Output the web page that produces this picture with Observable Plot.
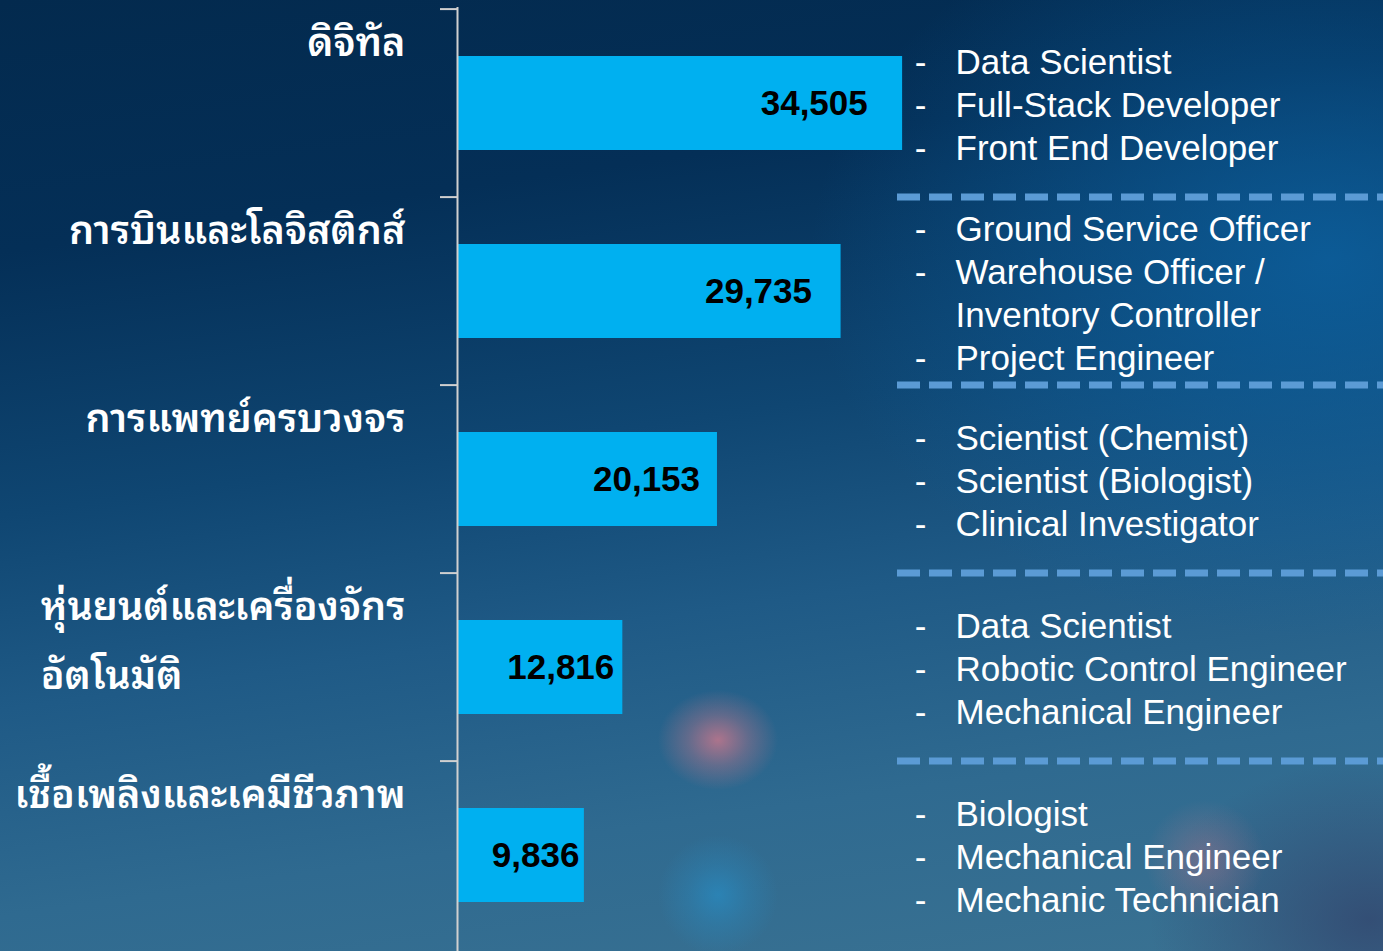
<!DOCTYPE html>
<html><head><meta charset="utf-8">
<script src="https://cdn.jsdelivr.net/npm/d3@7"></script>
<script src="https://cdn.jsdelivr.net/npm/@observablehq/plot@0.6"></script>
<style>
html,body{margin:0;padding:0;width:1383px;height:951px;overflow:hidden;}
body{
  background:
    radial-gradient(ellipse 60px 50px at 718px 740px, rgba(205,120,140,0.8) 0%, rgba(205,120,140,0.35) 50%, rgba(205,120,140,0) 100%),
    radial-gradient(circle at 718px 895px, rgba(40,140,195,0.7) 0px, rgba(40,140,195,0.3) 30px, rgba(40,140,195,0) 60px),
    radial-gradient(circle at 1205px 860px, rgba(190,120,140,0.4) 0px, rgba(190,120,140,0) 60px),
    radial-gradient(ellipse 220px 160px at 1370px 920px, rgba(50,70,110,0.8), rgba(50,70,110,0)),
    radial-gradient(ellipse 520px 380px at 1330px 260px, rgba(12,100,165,0.75), rgba(12,100,165,0)),
    linear-gradient(172deg, #032a4e 0%, #042f57 22%, #0f4672 45%, #1f5a86 62%, #2f6a90 80%, #3a7292 100%);
}
</style></head>
<body><div id="chart"></div>
<script>
const categories = ["ดิจิทัล", "การบินและโลจิสติกส์", "การแพทย์ครบวงจร", "หุ่นยนต์และเครื่องจักร\nอัตโนมัติ", "เชื้อเพลิงและเคมีชีวภาพ"];
const values = [34505, 29735, 20153, 12816, 9836];
const jobTitles = [
  ["Data Scientist", "Full-Stack Developer", "Front End Developer"],
  ["Ground Service Officer", "Warehouse Officer /\nInventory Controller", "Project Engineer"],
  ["Scientist (Chemist)", "Scientist (Biologist)", "Clinical Investigator"],
  ["Data Scientist", "Robotic Control Engineer", "Mechanical Engineer"],
  ["Biologist", "Mechanical Engineer", "Mechanic Technician"]
];

const W = 1383, H = 951, ML = 457, MR = 23, MT = 7, MB = 0;
const step = (H - MT - MB) / categories.length;
const rows = categories.map((c, i) => ({
  category: c,
  value: values[i],
  jobs: jobTitles[i].join("\n"),
  dashes: jobTitles[i].map(j => j.split("\n").map((l, k) => k ? " " : "-").join("\n")).join("\n")
}));
const thaiFont = "'Noto Sans Thai Looped', 'Noto Sans Thai', 'Leelawadee UI', Tahoma, 'DejaVu Sans', 'Noto Sans', sans-serif";
const latin = "'Liberation Sans', Arial, sans-serif";
const labelFont = 39.5, labelLH = 1.75;

const chart = Plot.plot({
  width: W, height: H,
  marginLeft: ML, marginRight: MR, marginTop: MT, marginBottom: MB,
  style: {background: "transparent", overflow: "visible"},
  x: {domain: [0, 70000], axis: null},
  y: {domain: categories, paddingInner: 0.5, paddingOuter: 0.25, axis: null},
  marks: [
    Plot.barX(rows, {x: "value", y: "category", fill: "#00B0F0"}),
    Plot.text(rows, {x: d => d.value * 0.906, y: "category", text: d => d3.format(",")(d.value), textAnchor: "end", dx: 7,
      fill: "#000", fontSize: 35, fontWeight: "bold", fontFamily: latin}),
    Plot.ruleX([0], {stroke: "#d0d0d0", strokeWidth: 2}),
    Plot.axisY({tickSize: 17, tickFormat: () => "", label: null, stroke: "#d0d0d0", strokeWidth: 2, dy: -step / 2}),
    Plot.text(rows, {x: 0, y: "category", text: "category", textAnchor: "end", lineAnchor: "top",
      dx: -52, dy: -step / 2 + 47 - 0.71 * labelLH * labelFont, lineHeight: labelLH, fontSize: labelFont,
      fontWeight: 600, fill: "white", fontFamily: thaiFont}),
    Plot.ruleY(categories.slice(1), {y: d => d, dy: -step / 2, insetLeft: 440, insetRight: -23,
      stroke: "#5B9BD5", strokeWidth: 7, strokeDasharray: "23,9"}),
    Plot.text(rows, {y: "category", frameAnchor: "left", text: "dashes", dx: 463, textAnchor: "middle", lineAnchor: "middle",
      lineHeight: 1.23, fontSize: 35, fill: "white", fontFamily: latin}),
    Plot.text(rows, {y: "category", frameAnchor: "left", text: "jobs", dx: 498, textAnchor: "start", lineAnchor: "middle",
      lineHeight: 1.23, fontSize: 35, fill: "white", fontFamily: latin})
  ]
});
document.getElementById("chart").appendChild(chart);

// multi-line Thai category labels: block ends at the axis side on its first line, lines left-aligned
chart.querySelectorAll("text").forEach(t => {
  const spans = t.querySelectorAll("tspan");
  if (spans.length > 1 && /[\u0E00-\u0E7F]/.test(t.textContent)) {
    const w = spans[0].getComputedTextLength();
    t.setAttribute("text-anchor", "start");
    t.style.textAnchor = "start";
    spans.forEach(s => s.setAttribute("x", -w));
  }
});
</script>
</body></html>
